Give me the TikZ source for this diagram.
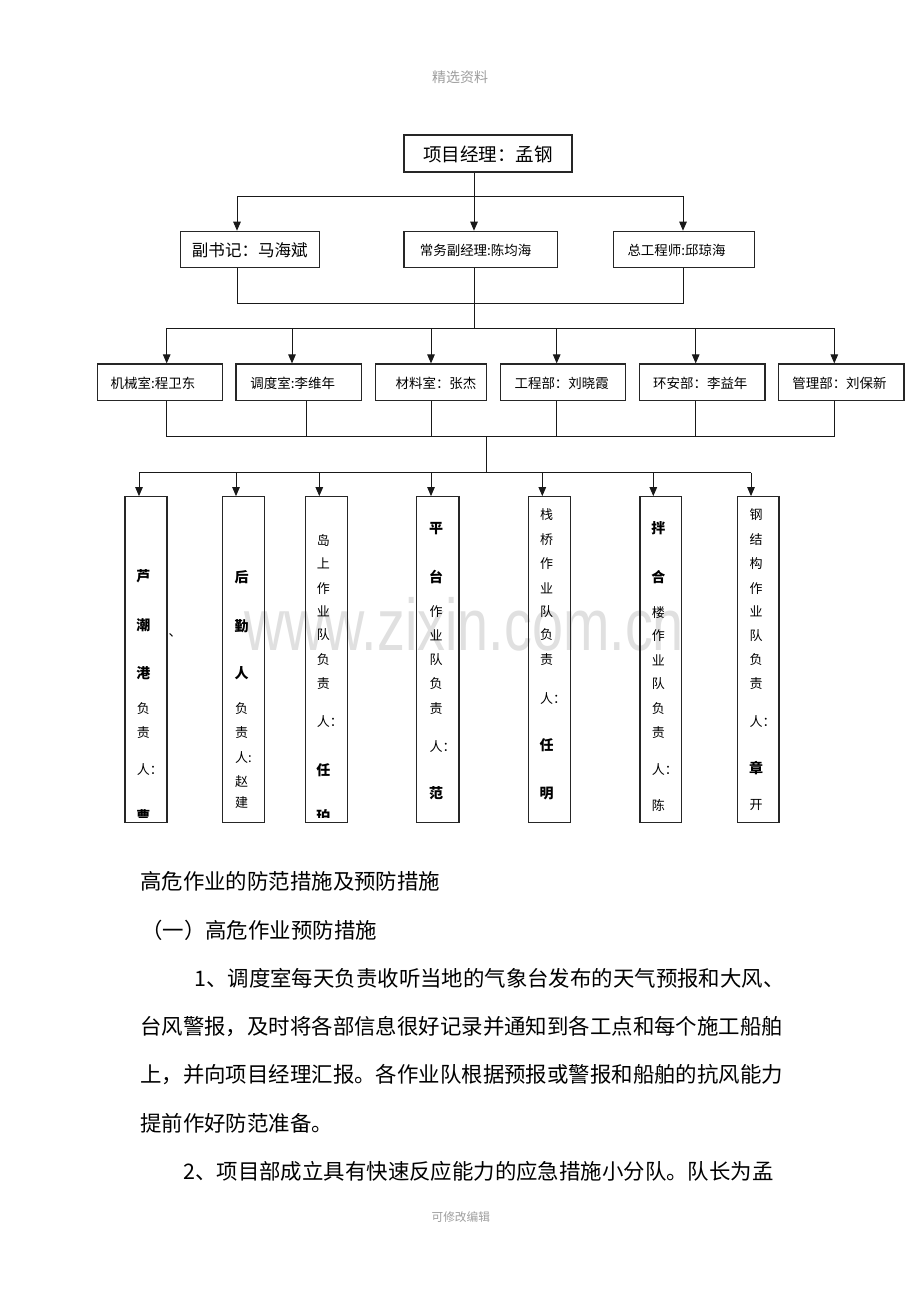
\documentclass[tikz,border=0pt]{standalone}
\usepackage{fontspec}
\setmainfont{Noto Sans CJK SC}
\newfontfamily\wmfont{Liberation Sans}
\usetikzlibrary{arrows.meta}
\definecolor{hdrgray}{gray}{0.62}
\definecolor{wmgray}{gray}{0.88}
\newcommand\fz[1]{\fontsize{#1pt}{#1pt}\selectfont}
\tikzset{
  boxx/.style={draw=black!85, line width=0.85pt, inner sep=0pt},
  ln/.style={line width=0.75pt, draw=black!90},
  arr/.style={ln, -{Triangle[length=6.75pt,width=5.6pt]}},
  lbl/.style={inner sep=0pt, text=black},
  ct/.style={inner sep=0pt, font=\fz{9.75}},
  cb/.style={inner sep=0pt, font=\fz{10.5}\bfseries},
  body/.style={inner sep=0pt, anchor=west, font=\fz{16.07}},
}
% name, x1, y1, x2, y2
\newcommand\bx[5]{\node[boxx, minimum width={(#4-#2)*0.75pt}, minimum height={(#5-#3)*0.75pt}] (#1) at ({(#2+#4)/2},{(#3+#5)/2}) {};}
\begin{document}
\begin{tikzpicture}[x=0.75pt,y=-0.75pt]
\useasboundingbox (0,0) rectangle (920,1302);
\fill[white] (0,0) rectangle (920,1302);
% watermark
\node[inner sep=0pt, anchor=base, text=wmgray, font=\wmfont\fz{55}, xscale=0.76] (wm) at (464,650) {www.zixin.com.cn};
% header / footer
\node[lbl, text=hdrgray, font=\fz{10.5}] (hdr) at (460,76.7) {精选资料};
\node[lbl, text=hdrgray, font=\fz{8.75}] (ftr) at (460.8,1216.7) {可修改编辑};

% ---- boxes ----
\bx{tb}{404}{135}{572}{172}
\bx{b21}{180.6}{231.3}{319.8}{267.7}
\bx{b22}{404}{231.3}{557.6}{267.7}
\bx{b23}{613.8}{231.3}{754.4}{267.7}
\bx{b31}{97.3}{364}{222.7}{400.7}
\bx{b32}{236}{364}{361.7}{400.7}
\bx{b33}{375.3}{364}{486.7}{400.7}
\bx{b34}{500.7}{364}{625.7}{400.7}
\bx{b35}{639.3}{364}{765}{400.7}
\bx{b36}{778.7}{364}{904}{400.7}
\bx{b41}{125}{496.7}{167}{822.3}
\bx{b42}{222.3}{496.7}{264.3}{822.3}
\bx{b43}{305.3}{496.7}{347.7}{822.3}
\bx{b44}{416.7}{496.7}{459}{822.3}
\bx{b45}{528.3}{496.7}{570.3}{822.3}
\bx{b46}{640}{496.7}{681.7}{822.3}
\bx{b47}{737.3}{496.7}{779}{822.3}

% ---- labels rows 1-3 ----
\node[lbl, font=\fz{13.9}] (t1) at (488,154.3) {项目经理：孟钢};
\node[lbl, font=\fz{12.4}] (t21) at (249.8,250) {副书记：马海斌};
\node[lbl, font=\fz{10.1}] (t22) at (475.6,250) {常务副经理:陈均海};
\node[lbl, font=\fz{10.1}] (t23) at (676.5,250) {总工程师:邱琼海};
\node[lbl, font=\fz{10.1}] (t31) at (153,383.3) {机械室:程卫东};
\node[lbl, font=\fz{10.1}] (t32) at (292.7,383.3) {调度室:李维年};
\node[lbl, font=\fz{10.1}] (t33) at (436,383.3) {材料室：张杰};
\node[lbl, font=\fz{10.1}] (t34) at (561.7,383.3) {工程部：刘晓霞};
\node[lbl, font=\fz{10.1}] (t35) at (700.3,383.3) {环安部：李益年};
\node[lbl, font=\fz{10.1}] (t36) at (839.5,383.3) {管理部：刘保新};

% ---- connectors ----
\coordinate (j0) at (474,196);
\coordinate (p21) at (237,196);
\coordinate (p23) at (683,196);
\draw[ln] (j0 |- tb.south) -- (j0);
\draw[ln] (p21) -- (p23);
\draw[arr] (p21) -- (p21 |- b21.north);
\draw[arr] (j0) -- (j0 |- b22.north);
\draw[arr] (p23) -- (p23 |- b23.north);

\coordinate (q21) at (237,303);
\coordinate (q23) at (683,303);
\draw[ln] (q21 |- b21.south) -- (q21) -- (q23) -- (q23 |- b23.south);
\coordinate (j1) at (474,328.3);
\draw[ln] (j1 |- b22.south) -- (j1);

\coordinate (p31) at (166.7,328.3);
\coordinate (p32) at (292,328.3);
\coordinate (p33) at (431,328.3);
\coordinate (p34) at (556.7,328.3);
\coordinate (p35) at (695.7,328.3);
\coordinate (p36) at (834.3,328.3);
\draw[ln] (p31) -- (p36);
\foreach \i in {1,...,6}{\draw[arr] (p3\i) -- (p3\i |- b3\i.north);}

\coordinate (q31) at (166.7,436.7);
\coordinate (q32) at (306,436.7);
\coordinate (q33) at (431,436.7);
\coordinate (q34) at (556.7,436.7);
\coordinate (q35) at (695.7,436.7);
\coordinate (q36) at (834.3,436.7);
\foreach \i in {1,...,6}{\draw[ln] (q3\i |- b3\i.south) -- (q3\i);}
\draw[ln] (q31) -- (q36);
\coordinate (j2) at (486.7,436.7);
\coordinate (j3) at (486.7,472.7);
\draw[ln] (j2) -- (j3);

\coordinate (p41) at (139,472.7);
\coordinate (p42) at (236,472.7);
\coordinate (p43) at (319.3,472.7);
\coordinate (p44) at (431,472.7);
\coordinate (p45) at (542.3,472.7);
\coordinate (p46) at (653.3,472.7);
\coordinate (p47) at (751,472.7);
\draw[ln] (p41) -- (p47);
\foreach \i in {1,...,7}{\draw[arr] (p4\i) -- (p4\i |- b4\i.north);}

% ---- vertical box texts ----
% box 1
\node[cb] (c1a) at (143.3,576.7) {芦};
\node[cb] (c1b) at (143.3,625.7) {潮};
\node[cb] (c1c) at (143.3,673) {港};
\node[ct] (c1d) at (143.3,709) {负};
\node[ct] (c1e) at (143.3,733) {责};
\node[ct] (c1f) at (143.3,770) {人\rlap{：}};
\begin{scope}
\clip (126,806) rectangle (166,817);
\node[cb] (c1g) at (143.3,816) {曹};
\end{scope}
\node[ct] (c1x) at (175,635.7) {、};
% box 2
\node[cb] (c2a) at (241.7,576.7) {后};
\node[cb] (c2b) at (241.7,625.7) {勤};
\node[cb] (c2c) at (241.7,673) {人};
\node[ct] (c2d) at (241.7,709) {负};
\node[ct] (c2e) at (241.7,733) {责};
\node[ct] (c2f) at (241.7,757.7) {人\rlap{:}};
\node[ct] (c2g) at (241.7,781.7) {赵};
\node[ct] (c2h) at (241.7,803) {建};
% box 3
\node[ct] (c3a) at (323.3,541) {岛};
\node[ct] (c3b) at (323.3,563.3) {上};
\node[ct] (c3c) at (323.3,588.3) {作};
\node[ct] (c3d) at (323.3,611.7) {业};
\node[ct] (c3e) at (323.3,635) {队};
\node[ct] (c3f) at (323.3,660) {负};
\node[ct] (c3g) at (323.3,684) {责};
\node[ct] (c3h) at (323.3,721.7) {人\rlap{：}};
\node[cb] (c3i) at (323.3,770) {任};
\begin{scope}
\clip (306,806) rectangle (347,817);
\node[cb] (c3j) at (323.3,816) {珀};
\end{scope}
% box 4
\node[cb] (c4a) at (436,528.3) {平};
\node[cb] (c4b) at (436,576.7) {台};
\node[ct] (c4c) at (436,611.7) {作};
\node[ct] (c4d) at (436,635) {业};
\node[ct] (c4e) at (436,660) {队};
\node[ct] (c4f) at (436,684) {负};
\node[ct] (c4g) at (436,708.3) {责};
\node[ct] (c4h) at (436,746.7) {人\rlap{：}};
\node[cb] (c4i) at (436,793.3) {范};
% box 5
\node[ct] (c5a) at (546.7,515) {栈};
\node[ct] (c5b) at (546.7,540) {桥};
\node[ct] (c5c) at (546.7,563.3) {作};
\node[ct] (c5d) at (546.7,588.3) {业};
\node[ct] (c5e) at (546.7,611.7) {队};
\node[ct] (c5f) at (546.7,635) {负};
\node[ct] (c5g) at (546.7,660) {责};
\node[ct] (c5h) at (546.7,698.3) {人\rlap{：}};
\node[cb] (c5i) at (546.7,745) {任};
\node[cb] (c5j) at (546.7,793.3) {明};
% box 6
\node[cb] (c6a) at (658.3,528.3) {拌};
\node[cb] (c6b) at (658.3,576.7) {合};
\node[ct] (c6c) at (658.3,612.7) {楼};
\node[ct] (c6d) at (658.3,636) {作};
\node[ct] (c6e) at (658.3,660) {业};
\node[ct] (c6f) at (658.3,684) {队};
\node[ct] (c6g) at (658.3,708.3) {负};
\node[ct] (c6h) at (658.3,732.3) {责};
\node[ct] (c6i) at (658.3,769.3) {人\rlap{：}};
\node[ct] (c6j) at (658.3,805) {陈};
% box 7
\node[ct] (c7a) at (756,515) {钢};
\node[ct] (c7b) at (756,540) {结};
\node[ct] (c7c) at (756,563.3) {构};
\node[ct] (c7d) at (756,588.3) {作};
\node[ct] (c7e) at (756,611.7) {业};
\node[ct] (c7f) at (756,636) {队};
\node[ct] (c7g) at (756,660) {负};
\node[ct] (c7h) at (756,684) {责};
\node[ct] (c7i) at (756,721.7) {人\rlap{：}};
\node[cb] (c7j) at (756,768.3) {章};
\node[ct] (c7k) at (756,805) {开};

% ---- body text ----
\node[body] (l1) at (140,881.7) {高危作业的防范措施及预防措施};
\node[body] (l2) at (141,930) {（一）高危作业预防措施};
\node[body] (l3) at (194,978) {1、调度室每天负责收听当地的气象台发布的天气预报和大风、};
\node[body] (l4) at (140,1026.7) {台风警报，及时将各部信息很好记录并通知到各工点和每个施工船舶};
\node[body] (l5) at (140,1075) {上，并向项目经理汇报。各作业队根据预报或警报和船舶的抗风能力};
\node[body] (l6) at (140,1123) {提前作好防范准备。};
\node[body] (l7) at (183,1171.7) {2、项目部成立具有快速反应能力的应急措施小分队。队长为孟};
\end{tikzpicture}
\end{document}
